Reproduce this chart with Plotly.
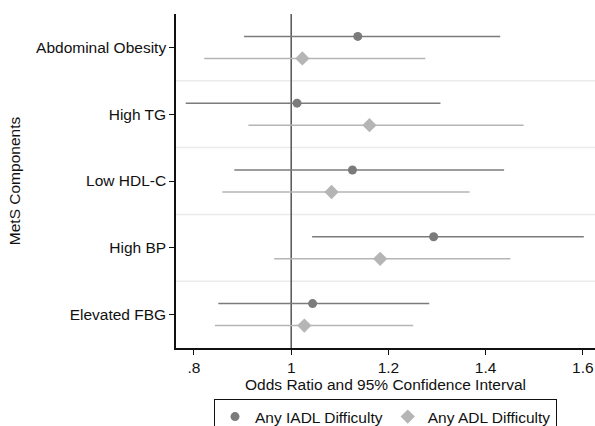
import plotly.graph_objects as go

categories = ["Abdominal Obesity", "High TG", "Low HDL-C", "High BP", "Elevated FBG"]
iadl_or = [1.137, 1.012, 1.126, 1.293, 1.044]
iadl_lo = [0.903, 0.783, 0.883, 1.043, 0.850]
iadl_hi = [1.430, 1.307, 1.438, 1.602, 1.284]
adl_or = [1.023, 1.161, 1.083, 1.183, 1.027]
adl_lo = [0.821, 0.912, 0.858, 0.965, 0.843]
adl_hi = [1.276, 1.478, 1.367, 1.451, 1.251]
x_ticks = [0.8, 1.0, 1.2, 1.4, 1.6]
x_tick_labels = [".8", "1", "1.2", "1.4", "1.6"]

pos = list(range(len(categories)))
off = 0.165
dark = "#7b7b7b"
light = "#b5b5b5"
FONT = "Liberation Sans, Arial, sans-serif"
FS = 15.5

fig = go.Figure()
fig.add_trace(go.Scatter(
    x=iadl_or, y=[p - off for p in pos], mode="markers", name="Any IADL Difficulty",
    marker=dict(symbol="circle", size=9, color=dark),
    error_x=dict(type="data", symmetric=False,
                 array=[h - o for h, o in zip(iadl_hi, iadl_or)],
                 arrayminus=[o - l for o, l in zip(iadl_or, iadl_lo)],
                 width=0, thickness=1.5, color=dark)))
fig.add_trace(go.Scatter(
    x=adl_or, y=[p + off for p in pos], mode="markers", name="Any ADL Difficulty",
    marker=dict(symbol="diamond", size=11, color=light),
    error_x=dict(type="data", symmetric=False,
                 array=[h - o for h, o in zip(adl_hi, adl_or)],
                 arrayminus=[o - l for o, l in zip(adl_or, adl_lo)],
                 width=0, thickness=1.5, color=light)))

shapes = []
for i in range(len(categories) - 1):
    shapes.append(dict(type="line", xref="paper", x0=0, x1=1, yref="y", y0=i + 0.5, y1=i + 0.5,
                       line=dict(color="#ebebeb", width=1.5), layer="below"))
shapes.append(dict(type="line", xref="x", x0=1, x1=1, yref="paper", y0=0, y1=1,
                   line=dict(color="#555555", width=1.5), layer="below"))

fig.update_layout(
    width=595, height=426, autosize=False,
    margin=dict(l=176, r=0, t=14, b=78),
    paper_bgcolor="white", plot_bgcolor="white",
    font=dict(family=FONT, size=FS, color="#111111"),
    shapes=shapes,
    showlegend=True,
    legend=dict(orientation="h", xref="container", yref="container",
                x=(222 + 549) / 2 / 595, xanchor="center", y=1 - 399 / 426, yanchor="top",
                bordercolor="#111111", borderwidth=1, font=dict(size=FS),
                itemwidth=30, traceorder="normal"),
    xaxis=dict(range=[0.763, 1.625], tickvals=x_ticks, ticktext=x_tick_labels,
               automargin=False,
               showgrid=False, zeroline=False, showline=True, linecolor="#111111", linewidth=1.5,
               ticks="outside", ticklen=5, tickwidth=1.2, tickcolor="#111111",
               title=dict(text="Odds Ratio and 95% Confidence Interval", standoff=2, font=dict(size=FS))),
    yaxis=dict(range=[4.5, -0.5], tickvals=pos, ticktext=categories,
               automargin=False,
               showgrid=False, zeroline=False, showline=True, linecolor="#111111", linewidth=1.5,
               ticks="outside", ticklen=5, tickwidth=1.2, tickcolor="#111111",
               title=dict(text="MetS Components", standoff=12, font=dict(size=FS))),
)

fig.write_html(
    "out.html",
    config={"responsive": False, "displayModeBar": False},
    post_script="document.body.style.margin='0';document.body.style.overflow='hidden';",
)
